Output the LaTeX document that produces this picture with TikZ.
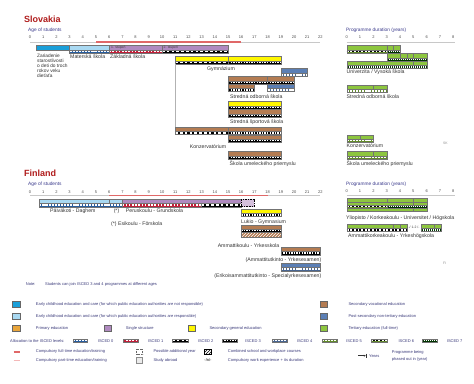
\documentclass[tikz,border=0pt]{standalone}
\usepackage{fontspec}
\setmainfont{Liberation Sans}
\usetikzlibrary{patterns,arrows.meta}
\definecolor{ececA}{HTML}{1A9FD9}
\definecolor{ececB}{HTML}{A9D9F2}
\definecolor{prim}{HTML}{E9A53B}
\definecolor{single}{HTML}{B08AC0}
\definecolor{secgen}{HTML}{FFF700}
\definecolor{secvoc}{HTML}{B47C52}
\definecolor{postsec}{HTML}{5B7FB5}
\definecolor{tert}{HTML}{8DC63F}
\definecolor{titlered}{HTML}{B01C1C}
\definecolor{axisblue}{HTML}{3A3A8C}
\definecolor{legblue}{HTML}{3A3A7A}
\definecolor{compred}{HTML}{E06868}
\definecolor{comppink}{HTML}{F4B8B8}
\definecolor{axisgray}{HTML}{C8C8C8}
\definecolor{iscblue}{HTML}{2A5E9E}
\definecolor{iscred}{HTML}{C0203A}
\newcommand{\ebar}[5]{\filldraw[fill=#5, draw=black!55, line width=0.3pt] (#1,#3) rectangle (#2,#4);}
\newcommand{\dv}[3]{\draw[black!55, line width=0.3pt] (#1,#2) -- (#1,#3);}
\newcommand{\strip}[4]{%
  \fill[#4base] (#1,#3) rectangle (#2,#3+3.2);
  \draw[#4mid] (#1,#3+1.6) -- (#2,#3+1.6);
  \draw[#4dash] (#1,#3+1.6) -- (#2,#3+1.6);
  \draw[black!55, line width=0.3pt] (#1,#3) rectangle (#2,#3+3.2);}
\tikzset{
  nomid/.style={draw=none},
  i0base/.style={fill=iscblue}, i0mid/.style={nomid}, i0dash/.style={white, line width=1.5pt, dash pattern=on 2.2pt off 0.9pt},
  i1base/.style={fill=iscred}, i1mid/.style={nomid}, i1dash/.style={white, line width=1.5pt, dash pattern=on 1.6pt off 1.6pt},
  i2base/.style={fill=black}, i2mid/.style={nomid}, i2dash/.style={white, line width=1.5pt, dash pattern=on 2.6pt off 2.2pt},
  i3base/.style={fill=black}, i3mid/.style={nomid}, i3dash/.style={white, line width=1.5pt, dash pattern=on 1.4pt off 1.2pt},
  i4base/.style={fill=postsec!80!black}, i4mid/.style={nomid}, i4dash/.style={white, line width=1.5pt, dash pattern=on 2.2pt off 0.9pt},
  i5base/.style={fill=tert!70!black}, i5mid/.style={nomid}, i5dash/.style={white, line width=1.5pt, dash pattern=on 2.2pt off 0.9pt},
  i6base/.style={fill=tert!70!black}, i6mid/.style={black, line width=1.4pt}, i6dash/.style={white, line width=1.4pt, dash pattern=on 1.8pt off 1.8pt},
  i7base/.style={fill=black!80!green}, i7mid/.style={nomid}, i7dash/.style={white, line width=1.5pt, dash pattern=on 1pt off 1pt},
  tick/.style={font=\fontsize{4}{4}\selectfont, inner sep=0pt, text=black!70},
  axtitle/.style={font=\fontsize{4.8}{5}\selectfont, inner sep=0pt, text=axisblue, anchor=west},
  lab/.style={font=\fontsize{5.2}{6}\selectfont, inner sep=0pt, anchor=west, text=black!80},
  leg/.style={font=\fontsize{4}{4.2}\selectfont, inner sep=0pt, anchor=west, text=legblue},
  ttl/.style={font=\fontsize{9}{10}\bfseries\selectfont, inner sep=0pt, anchor=west, text=titlered},
  tiny/.style={font=\fontsize{3.4}{4}\selectfont, inner sep=0pt, anchor=west, text=black!75},
  legbox/.style={draw=black!60, line width=0.4pt},
  axline/.style={axisgray, line width=0.8pt},
  compline/.style={compred, line width=1.4pt}
}
\begin{document}
\begin{tikzpicture}[x=1pt,y=-1pt]
\useasboundingbox[fill=white] (0,0) rectangle (474,383);

%% ================= SLOVAKIA =================
\node[ttl] (sk-title) at (24,19.3) {Slovakia};
\node[axtitle] (sk-age) at (28,30) {Age of students};
\node[axtitle] (sk-dur) at (346,30) {Programme duration (years)};
\begin{scope}[xshift=30pt, x=13.2pt]
  \draw[axline] (0,42) -- (22,42);
  \draw[compline] (5,42) -- (16,42);
  \foreach \i in {0,...,22} \node[tick] (sk-t\i) at (\i,37.3) {\i};
  % row 1
  \ebar{0.43}{3}{45}{50}{ececA}
  \ebar{3}{6}{45}{50}{ececB}
  \strip{3}{6}{50}{i0}
  \ebar{6}{15}{45}{50}{single}
  \dv{10}{45}{50}
  \strip{6}{10}{50}{i1}
  \strip{10}{15}{50}{i2}
  % gymnazium
  \ebar{11}{19}{56}{61}{secgen}
  \dv{15}{56}{61}
  \strip{11}{15}{61}{i2}
  \strip{15}{19}{61}{i3}
  \draw[black!30, line width=0.6pt] (11,64.2) -- (11,127);
  % post-secondary
  \ebar{19}{21}{68.5}{73.3}{postsec}
  \strip{19}{21}{73.3}{i4}
  % SOS
  \ebar{15}{20}{76.6}{81}{secvoc}
  \dv{18}{76.6}{81}
  \strip{15}{20}{81}{i3}
  \ebar{15}{17}{84.4}{88.4}{secvoc}
  \strip{15}{17}{88.4}{i3}
  \ebar{18}{20}{84.4}{88.4}{postsec}
  \strip{18}{20}{88.4}{i4}
  % SSS
  \ebar{15}{19}{101.6}{106}{secgen}
  \strip{15}{19}{106}{i3}
  \ebar{15}{19}{109.6}{113.8}{secvoc}
  \strip{15}{19}{113.8}{i3}
  % Konzervatorium
  \ebar{11}{19}{127}{131.2}{secvoc}
  \dv{15}{127}{131.2}
  \strip{11}{15}{131.2}{i2}
  \strip{15}{19}{131.2}{i3}
  \ebar{15}{19}{135}{139}{secvoc}
  \strip{15}{19}{139}{i3}
  % SUP
  \ebar{15}{19}{151.6}{155.8}{secvoc}
  \strip{15}{19}{155.8}{i3}
\end{scope}
\node[tiny] (sk-st1) at (111,47.5) {1. stupeň};
\node[tiny] (sk-st2) at (163.5,47.5) {2. stupeň};
\node[lab, anchor=north west, align=left, font=\fontsize{4.8}{5}\selectfont] (sk-zar) at (37,53.8) {Zariadenie\\starostlivosti\\o deti do troch\\rokov veku\\dieťaťa};
\node[lab] (sk-ms) at (70,56.2) {Materská škola};
\node[lab] (sk-zs) at (110,56.2) {Základná škola};
\node[lab, anchor=center] (sk-gym) at (221,69) {Gymnázium};
\node[lab] (sk-sos) at (230,96.3) {Stredná odborná škola};
\node[lab] (sk-sss) at (230,121.7) {Stredná športová škola};
\node[lab, anchor=center] (sk-konz) at (208,146.3) {Konzervatórium};
\node[lab] (sk-sup) at (229.5,163.7) {Škola umeleckého priemyslu};

\begin{scope}[xshift=346.7pt, x=13.33pt]
  \draw[axline] (0,42.3) -- (8.15,42.3);
  \foreach \i in {0,...,8} \node[tick] (sk-d\i) at (\i,37.3) {\i};
  \ebar{0}{4}{45}{50}{tert}
  \dv{3}{45}{50}\dv{3.5}{45}{50}
  \strip{0}{3}{50}{i6}
  \strip{3}{4}{50}{i7}
  \ebar{3}{6}{53.2}{58}{tert}
  \dv{4}{53.2}{58}\dv{4.5}{53.2}{58}\dv{5}{53.2}{58}
  \strip{3}{6}{58}{i7}
  \ebar{0}{6}{61.2}{65.2}{tert}
  \dv{5}{61.2}{65.2}
  \strip{0}{6}{65.2}{i7}
  \ebar{0}{3}{85}{89.2}{tert}
  \dv{2}{85}{89.2}
  \strip{0}{3}{89.2}{i5}
  \ebar{0}{2}{135}{138.8}{tert}
  \dv{1}{135}{138.8}
  \strip{0}{2}{138.8}{i5}
  \ebar{0}{3}{151.6}{155.8}{tert}
  \dv{2}{151.6}{155.8}
  \strip{0}{3}{155.8}{i5}
\end{scope}
\node[lab] (sk-univ) at (346.5,71.7) {Univerzita / Vysoká škola};
\node[lab] (sk-sos2) at (346.5,96.7) {Stredná odborná škola};
\node[lab] (sk-konz2) at (346.5,146) {Konzervatórium};
\node[lab] (sk-sup2) at (346.5,163.7) {Škola umeleckého priemyslu};
\node[tiny, text=black!45] (sk-code) at (443,143.3) {SK};

%% ================= FINLAND =================
\node[ttl] (fi-title) at (24,173.3) {Finland};
\node[axtitle] (fi-age) at (28,184.3) {Age of students};
\node[axtitle] (fi-dur) at (346,184.3) {Programme duration (years)};
\begin{scope}[xshift=30pt, x=13.2pt]
  \draw[axline] (0,195.7) -- (22,195.7);
  \draw[compline] (6,195.7) -- (18,195.7);
  \foreach \i in {0,...,22} \node[tick] (fi-t\i) at (\i,191.7) {\i};
  \ebar{0.7}{7}{199}{203.6}{ececB}
  \dv{6}{199}{203.6}
  \strip{0.7}{7}{203.6}{i0}
  \ebar{7}{16}{199}{203.6}{single}
  \strip{7}{13}{203.6}{i1}
  \strip{13}{16}{203.6}{i2}
  \filldraw[fill=single!55, draw=black, line width=0.9pt, dash pattern=on 1.6pt off 1pt] (16,199) rectangle (17,206.8);
  % Lukio
  \ebar{16}{19}{209}{213.3}{secgen}
  \strip{16}{19}{213.3}{i3}
  % Ammattikoulu
  \ebar{16}{19}{225}{229}{secvoc}
  \strip{16}{19}{229}{i3}
  \fill[secvoc] (16,232.6) rectangle (19,237.6);
  \fill[pattern=north east lines, pattern color=white] (16,232.6) rectangle (19,237.6);
  \draw[black!55, line width=0.3pt] (16,232.6) rectangle (19,237.6);
  % Ammattitutkinto
  \ebar{19}{22}{247.3}{251.5}{secvoc}
  \strip{19}{22}{251.5}{i3}
  % Erikoisammattitutkinto
  \ebar{19}{22}{263.3}{267.5}{postsec}
  \strip{19}{22}{267.5}{i4}
\end{scope}
\node[lab] (fi-pk) at (50,210.7) {Päiväkoti - Daghem};
\node[lab, anchor=center] (fi-ast) at (116.5,210.7) {(*)};
\node[lab] (fi-pe) at (125.7,210.7) {Peruskoulu - Grundskola};
\node[lab] (fi-es) at (111,224) {(*) Esikoulu - Förskola};
\node[lab] (fi-lu) at (241,221.7) {Lukio - Gymnasium};
\node[lab, anchor=east] (fi-am) at (279.5,245.7) {Ammattikoulu - Yrkesskola};
\node[lab, anchor=east] (fi-at) at (321.5,260) {(Ammattitutkinto - Yrkesexamen)};
\node[lab, anchor=east] (fi-ea) at (321.5,275.7) {(Erikoisammattitutkinto - Specialyrkesexamen)};

\begin{scope}[xshift=346.7pt, x=13.33pt]
  \draw[axline] (0,195.7) -- (8.15,195.7);
  \foreach \i in {0,...,8} \node[tick] (fi-d\i) at (\i,191.2) {\i};
  \ebar{0}{6}{198.6}{205}{tert}
  \draw[black!55, line width=0.3pt] (0,202.6) -- (6,202.6);
  \dv{3}{198.6}{202.6}\dv{5}{198.6}{205}
  \strip{0}{3}{205}{i6}
  \strip{3}{6}{205}{i7}
  \ebar{0}{6}{208.2}{211.4}{tert}
  \dv{5}{208.2}{211.4}
  \ebar{0}{4.5}{224.3}{228.3}{tert}
  \dv{3.5}{224.3}{228.3}\dv{4}{224.3}{228.3}
  \strip{0}{4.5}{228.3}{i6}
  \ebar{5.55}{7.05}{224.3}{228.3}{tert}
  \dv{6.55}{224.3}{228.3}
  \strip{5.55}{7.05}{228.3}{i7}
\end{scope}
\node[tiny, anchor=center] (fi-we) at (414,226.8) {-/ 1-2 /-};
\node[lab] (fi-yl) at (346,217.7) {Yliopisto / Korkeakoulu - Universitet / Högskola};
\node[lab] (fi-amk) at (348,235.7) {Ammattikorkeakoulu - Yrkeshögskola};
\node[tiny, text=black!45] (fi-code) at (443,263) {FI};

%% ================= NOTE =================
\node[leg] (note) at (25.7,284) {Note:};
\node[leg] (note-t) at (45,284) {Students can join ISCED 3 and 4 programmes at different ages};

%% ================= LEGEND =================
\filldraw[legbox, fill=ececA] (12.3,301.5) rectangle (20,307.3);
\node[leg] (lg-a) at (35.7,304.5) {Early childhood education and care (for which public education authorities are not responsible)};
\filldraw[legbox, fill=ececB] (12.3,313) rectangle (20,318.8);
\node[leg] (lg-b) at (35.7,316) {Early childhood education and care (for which public education authorities are responsible)};
\filldraw[legbox, fill=prim] (12.3,325.4) rectangle (20,331.2);
\node[leg] (lg-c) at (35.7,328.3) {Primary education};
\filldraw[legbox, fill=single] (104.3,325.4) rectangle (111.5,331.2);
\node[leg] (lg-d) at (125.7,328.3) {Single structure};
\filldraw[legbox, fill=secgen] (188.3,325.4) rectangle (195.5,331.2);
\node[leg] (lg-e) at (209.3,328.3) {Secondary general education};
\filldraw[legbox, fill=secvoc] (320,301.5) rectangle (327.3,307.3);
\node[leg] (lg-f) at (348.3,304.5) {Secondary vocational education};
\filldraw[legbox, fill=postsec] (320,313.6) rectangle (327.3,319.4);
\node[leg] (lg-g) at (348.3,316.6) {Post-secondary non-tertiary education};
\filldraw[legbox, fill=tert] (320,325.4) rectangle (327.3,331.2);
\node[leg] (lg-h) at (348.3,328.3) {Tertiary education (full-time)};

\node[leg] (lg-alloc) at (10,340.7) {Allocation to the ISCED levels:};
\strip{72.7}{87.3}{339.1}{i0}
\node[leg] (lg-i0) at (97.7,340.7) {ISCED 0};
\strip{122.7}{137.7}{339.1}{i1}
\node[leg] (lg-i1) at (147.7,340.7) {ISCED 1};
\strip{172}{187.7}{339.1}{i2}
\node[leg] (lg-i2) at (197.7,340.7) {ISCED 2};
\strip{221.7}{236.7}{339.1}{i3}
\node[leg] (lg-i3) at (245,340.7) {ISCED 3};
\strip{271.7}{286.7}{339.1}{i4}
\node[leg] (lg-i4) at (296.7,340.7) {ISCED 4};
\strip{321.7}{336.7}{339.1}{i5}
\node[leg] (lg-i5) at (346,340.7) {ISCED 5};
\strip{371}{386.7}{339.1}{i6}
\node[leg] (lg-i6) at (398.3,340.7) {ISCED 6};
\strip{421.7}{436.7}{339.1}{i7}
\node[leg] (lg-i7) at (446.7,340.7) {ISCED 7};

\draw[compred, line width=1.6pt] (13.5,351.7) -- (19.5,351.7);
\node[leg] (lg-cf) at (35.7,351.7) {Compulsory full-time education/training};
\draw[comppink, line width=1.6pt] (13.5,360.3) -- (19.5,360.3);
\node[leg] (lg-cp) at (35.7,360.3) {Compulsory part-time education/training};
\draw[black!60, line width=0.5pt, dash pattern=on 0.8pt off 0.8pt] (136.7,349) rectangle (142.7,354.4);
\node[leg] (lg-pa) at (153.3,351.7) {Possible additional year};
\filldraw[fill=black!8, draw=black!45, line width=0.5pt] (136.7,357.6) rectangle (142.7,363);
\node[leg] (lg-sa) at (153.3,360.3) {Study abroad};
\fill[pattern=north east lines, pattern color=black] (204.3,349) rectangle (211,354.4);
\draw[black, line width=0.6pt] (204.3,349) rectangle (211,354.4);
\node[leg] (lg-cs) at (227.7,351.7) {Combined school and workplace courses};
\node[leg, anchor=center, text=black] (lg-wn) at (208,360.3) {-/n/-};
\node[leg] (lg-cw) at (227.7,360.3) {Compulsory work experience + its duration};
\coordinate (ar-a) at (358,355.7);
\coordinate (ar-b) at (366,355.7);
\draw[black!80, line width=0.6pt, -{Latex[length=2.2pt,width=2.2pt]}] (ar-a) -- (ar-b);
\draw[black!80, line width=0.8pt] (366.6,353.5) -- (366.6,357.9);
\node[leg] (lg-yr) at (369,355.7) {Years};
\node[leg] (lg-ph1) at (391.7,352.3) {Programme being};
\node[leg] (lg-ph2) at (391.7,359.3) {phased out in (year)};
\end{tikzpicture}
\end{document}
